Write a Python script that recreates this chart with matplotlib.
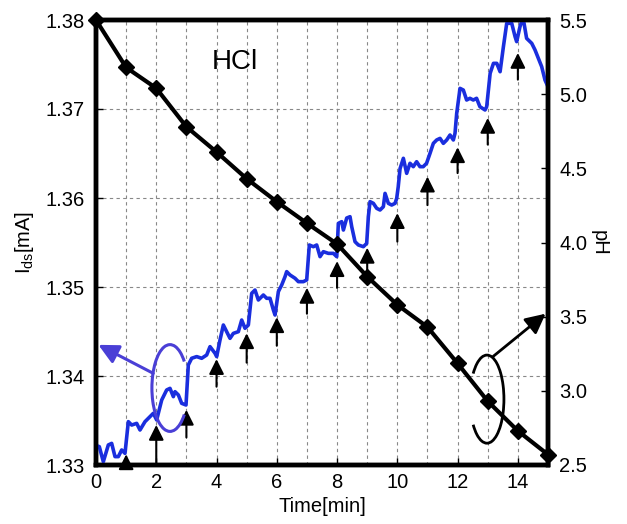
import matplotlib
matplotlib.use("Agg")
import matplotlib.pyplot as plt
from matplotlib.patches import Arc

plt.rcParams['font.family'] = ['Liberation Sans', 'DejaVu Sans']

# pH data (black diamonds)
t_ph = list(range(16))
ph = [5.5, 5.18, 5.04, 4.78, 4.61, 4.43, 4.275, 4.13, 3.99, 3.77, 3.58, 3.43, 3.185, 2.93, 2.73, 2.57]

# Drain current trace (blue)
t_cur = [0, 0.11, 0.243, 0.409, 0.52, 0.631, 0.741, 0.852, 0.962, 1.073, 1.184, 1.35, 1.46, 1.626,
         1.792, 1.903, 2.013, 2.18, 2.345, 2.456, 2.567, 2.622, 2.733, 2.843, 2.987, 3.064, 3.175,
         3.341, 3.507, 3.673, 3.784, 3.95, 4.005, 4.115, 4.226, 4.337, 4.447, 4.558, 4.724, 4.835,
         4.945, 5.056, 5.167, 5.277, 5.388, 5.554, 5.664, 5.775, 5.886, 5.941, 6.052, 6.162, 6.273,
         6.328, 6.439, 6.605, 6.715, 6.881, 6.992, 7.08, 7.213, 7.324, 7.435, 7.545, 7.711, 7.878,
         7.989, 8.043, 8.154, 8.21, 8.32, 8.43, 8.486, 8.596, 8.707, 8.873, 8.983, 9.038, 9.094,
         9.205, 9.315, 9.426, 9.536, 9.592, 9.702, 9.813, 9.924, 9.979, 10.03, 10.09, 10.20, 10.31,
         10.42, 10.53, 10.64, 10.75, 10.86, 10.97, 11.085, 11.195, 11.306, 11.417, 11.527, 11.638,
         11.748, 11.859, 11.914, 11.97, 12.08, 12.19, 12.30, 12.41, 12.52, 12.63, 12.74, 12.91,
         12.965, 13.08, 13.19, 13.30, 13.41, 13.52, 13.63, 13.796, 13.907, 13.96, 14.07, 14.16,
         14.205, 14.29, 14.46, 14.57, 14.68, 14.79, 14.90, 15.0]
i_cur = [1.3322, 1.33206, 1.33037, 1.33225, 1.33243, 1.33094, 1.33094, 1.33169, 1.33131, 1.33487,
         1.33449, 1.33468, 1.33393, 1.33487, 1.33543, 1.33581, 1.33506, 1.33730, 1.33843, 1.33861,
         1.33768, 1.33824, 1.33787, 1.33693, 1.33674, 1.34124, 1.34199, 1.34218, 1.34199, 1.34236,
         1.34330, 1.34255, 1.34218, 1.34404, 1.34573, 1.34498, 1.34423, 1.34479, 1.34498, 1.34629,
         1.34536, 1.34573, 1.34929, 1.34966, 1.34854, 1.34910, 1.34873, 1.34873, 1.34742, 1.34685,
         1.34948, 1.35022, 1.35116, 1.35173, 1.35135, 1.35098, 1.35060, 1.35060, 1.35079, 1.35472,
         1.35453, 1.35472, 1.35341, 1.35397, 1.35378, 1.35378, 1.35341, 1.35715, 1.35734, 1.35640,
         1.35775, 1.35790, 1.35678, 1.35509, 1.35472, 1.35453, 1.35490, 1.35790, 1.35959, 1.35940,
         1.35884, 1.35865, 1.35902, 1.36052, 1.35940, 1.35921, 1.35940, 1.35996, 1.36127, 1.36330,
         1.36446, 1.36277, 1.36390, 1.36352, 1.36408, 1.36352, 1.36352, 1.36390, 1.36502, 1.36614,
         1.36652, 1.36670, 1.36614, 1.36652, 1.36708, 1.36652, 1.36727, 1.36951, 1.37232, 1.37213,
         1.37101, 1.37120, 1.37101, 1.37120, 1.37026, 1.36989, 1.37026, 1.37401, 1.37513, 1.37513,
         1.37419, 1.37700, 1.37963, 1.37963, 1.37813, 1.37757, 1.37925, 1.38019, 1.37963, 1.37794,
         1.37738, 1.37663, 1.37569, 1.37476, 1.37326, 1.3725]

# Injection arrows (time, tip current, tail current)
arrow_t = [1, 2, 3, 4, 5, 6, 7, 8, 9, 10, 11, 12, 13, 14]
arrow_tip = [1.3312, 1.3345, 1.3362, 1.3419, 1.3448, 1.3466, 1.3499, 1.3529, 1.3544, 1.3583,
             1.3624, 1.3657, 1.3690, 1.3763]
arrow_tail = [1.3300, 1.3302, 1.3331, 1.3388, 1.3415, 1.3434, 1.3470, 1.3499, 1.3512, 1.3551,
              1.3592, 1.3628, 1.3660, 1.3733]

x_ticks = [0, 2, 4, 6, 8, 10, 12, 14]
y_ticks = [1.33, 1.34, 1.35, 1.36, 1.37, 1.38]
ph_ticks = [2.5, 3.0, 3.5, 4.0, 4.5, 5.0, 5.5]

FS = 14.5

fig = plt.figure(figsize=(6.27, 5.24), dpi=100)
ax = fig.add_axes([96/627, 1 - 465/524, (548-96)/627, (465-20)/524])
ax2 = ax.twinx()

blue = '#1a2ede'
ax.plot(t_cur, i_cur, color=blue, lw=2.6, zorder=3)

ax.set_xlim(0, 15)
ax.set_ylim(1.33, 1.38)
ax.set_xticks(x_ticks)
ax.set_xticks(range(16), minor=True)
ax.set_yticks(y_ticks)
ax.set_yticklabels([f'{v:.2f}' for v in y_ticks])
ax.grid(True, which='both', axis='x', ls=(0, (3, 3)), color='#888888', lw=0.8)
ax.grid(True, which='major', axis='y', ls=(0, (3, 3)), color='#888888', lw=0.8)
ax.tick_params(which='both', direction='in', length=5, width=1, labelsize=FS, top=False)
ax.tick_params(which='minor', length=0)
ax.tick_params(axis='x', pad=6)
ax.tick_params(axis='y', pad=8)
ax.set_xlabel('Time[min]', fontsize=FS, labelpad=3)
ax.set_ylabel('I$_{\\mathregular{ds}}$[mA]', fontsize=FS, labelpad=7)

ax2.plot(t_ph, ph, color='black', lw=3, marker='D', markersize=8, clip_on=False, zorder=4)
ax2.set_ylim(2.5, 5.5)
ax2.set_yticks(ph_ticks)
ax2.set_yticklabels([f'{v:.1f}' for v in ph_ticks])
ax2.tick_params(direction='in', length=5, width=1, labelsize=FS, pad=8)
ax2.set_ylabel('pH', fontsize=FS, rotation=270, va='bottom', labelpad=2)

for a in (ax, ax2):
    for s in a.spines.values():
        s.set_linewidth(3.2)

# Injection arrows
for t, tip, tail in zip(arrow_t, arrow_tip, arrow_tail):
    ax.annotate('', xy=(t, tip), xytext=(t, tail),
                arrowprops=dict(arrowstyle='-|>,head_length=0.6,head_width=0.3',
                                color='black', lw=1.5, shrinkA=0, shrinkB=0,
                                mutation_scale=15),
                zorder=5)

ax.text(4.61, 1.3753, 'HCl', fontsize=20, ha='center', va='center')

# Callouts (drawn in axes-fraction coordinates)
callout_blue = '#4a3fd6'
ax.add_patch(Arc((0.1637, 0.173), 0.08, 0.195, theta1=62, theta2=298,
                 transform=ax.transAxes, color=callout_blue, lw=2.2, zorder=6))
ax.annotate('', xy=(0.08, 1.3435), xytext=(1.90, 1.3403),
            arrowprops=dict(arrowstyle='-|>,head_length=0.8,head_width=0.4',
                            color=callout_blue, lw=2.2, shrinkA=0, shrinkB=0,
                            mutation_scale=15), zorder=6)

ax.add_patch(Arc((0.865, 0.148), 0.075, 0.198, theta1=242, theta2=118,
                 transform=ax.transAxes, color='black', lw=2.0, zorder=6))
ax.annotate('', xy=(14.92, 1.3470), xytext=(13.18, 1.3422),
            arrowprops=dict(arrowstyle='-|>,head_length=0.8,head_width=0.4',
                            color='black', lw=2.0, shrinkA=0, shrinkB=0,
                            mutation_scale=15), zorder=6, annotation_clip=False)

fig.savefig('out.png', dpi=100)
